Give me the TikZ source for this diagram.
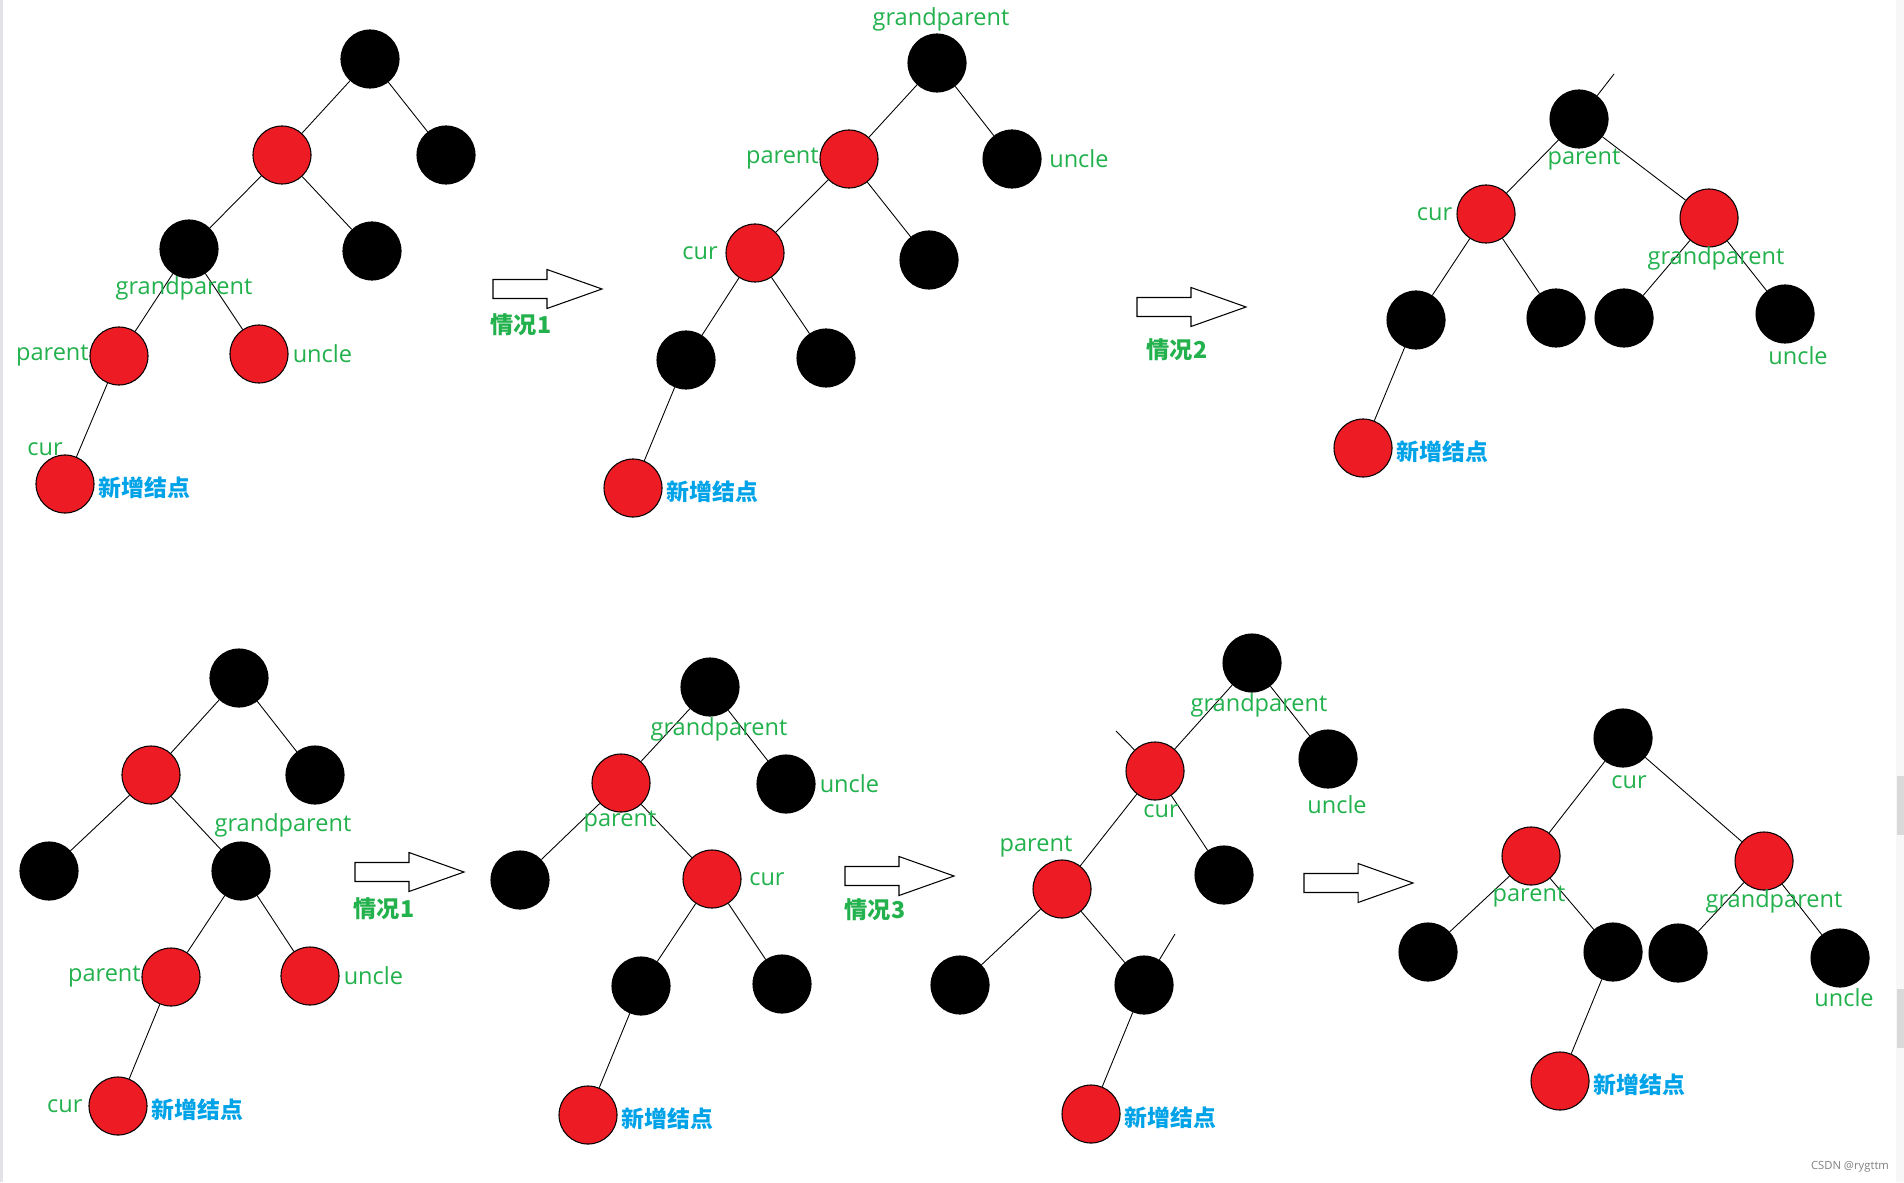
\documentclass[tikz,border=0pt]{standalone}
\usepackage{fontspec}
\setmainfont{Open Sans}
\newfontfamily\cjk{Noto Sans CJK SC}
\usetikzlibrary{positioning}
\definecolor{nodered}{RGB}{237,28,36}
\definecolor{labelgreen}{RGB}{34,177,76}
\definecolor{newblue}{RGB}{0,162,232}

\begin{document}
\begin{tikzpicture}[x=0.01cm, y=-0.01cm,
    bnode/.style={circle, draw=black, fill=black, line width=0.3pt, minimum size=0.58cm, inner sep=0pt},
    rnode/.style={circle, draw=black, fill=nodered, line width=0.3pt, minimum size=0.58cm, inner sep=0pt},
    link/.style={line width=0.25pt},
    lbl/.style={text=labelgreen, inner sep=0pt, font=\fontsize{6.7}{8}\selectfont},
    newlbl/.style={text=newblue, inner sep=0pt, yshift=-0.04cm, font=\cjk\bfseries\fontsize{6.5}{8}\selectfont},
    caselbl/.style={text=labelgreen, inner sep=0pt, font=\cjk\bfseries\fontsize{6.6}{8}\selectfont},
    hollow/.style={draw=black, fill=white, line width=0.3pt}
  ]
  \useasboundingbox (0,0) rectangle (1904,1182);
  \fill[blue!12!gray!20] (0,0) rectangle (3,1182);
  \fill[gray!6] (1896,0) rectangle (1904,1182);
  \fill[gray!30] (1897,776) rectangle (1904,835);
  \fill[gray!30] (1897,989) rectangle (1904,1048);

  % hollow arrows between the steps
  \foreach \x/\y in {493/289, 1137/307, 355/872, 845/876, 1304/883}
    \draw[hollow] (\x,\y-9.5) -- ++(54,0) -- ++(0,-10) -- (\x+109,\y)
      -- (\x+54,\y+19.5) -- ++(0,-10) -- (\x,\y+9.5) -- cycle;
  \node[caselbl] (case1a) at (521,325) {情况1};
  \node[caselbl] (case2) at (1177,350) {情况2};
  \node[caselbl] (case1b) at (384,909) {情况1};
  \node[caselbl] (case3) at (875,910) {情况3};

  % tree 1
  \node[bnode] (t1a) at (370,59) {};
  \node[rnode] (t1b) at (282,155) {};
  \node[bnode] (t1c) at (446,155) {};
  \node[bnode] (t1d) at (189,249) {};
  \node[bnode] (t1e) at (372,251) {};
  \node[rnode] (t1f) at (119,356) {};
  \node[rnode] (t1g) at (259,354) {};
  \node[rnode] (t1h) at (65,484) {};
  \foreach \u/\v in {a/b, a/c, b/d, b/e, d/f, d/g, f/h}
    \draw[link] (t1\u) -- (t1\v);
  \node[lbl] at (184,288) {grandparent};
  \node[lbl, left=0pt of t1f] {parent};
  \node[lbl, right=1pt of t1g] {uncle};
  \node[lbl] at (45,449) {cur};
  \node[newlbl, right=1pt of t1h] {新增结点};

  % tree 2
  \node[bnode] (t2a) at (937,63) {};
  \node[rnode] (t2b) at (849,159) {};
  \node[bnode] (t2c) at (1012,159) {};
  \node[rnode] (t2d) at (755,253) {};
  \node[bnode] (t2e) at (929,260) {};
  \node[bnode] (t2f) at (686,360) {};
  \node[bnode] (t2g) at (826,358) {};
  \node[rnode] (t2h) at (633,488) {};
  \foreach \u/\v in {a/b, a/c, b/d, b/e, d/f, d/g, f/h}
    \draw[link] (t2\u) -- (t2\v);
  \node[lbl] at (941,19) {grandparent};
  \node[lbl, left=0pt of t2b] {parent};
  \node[lbl, right=2pt of t2c] {uncle};
  \node[lbl, left=2pt of t2d] {cur};
  \node[newlbl, right=1pt of t2h] {新增结点};

  % tree 3
  \node[bnode] (t3a) at (1579,119) {};
  \node[rnode] (t3b) at (1486,214) {};
  \node[rnode] (t3c) at (1709,218) {};
  \node[bnode] (t3d) at (1416,320) {};
  \node[bnode] (t3e) at (1556,318) {};
  \node[bnode] (t3f) at (1624,318) {};
  \node[bnode] (t3g) at (1785,314) {};
  \node[rnode] (t3h) at (1363,448) {};
  \coordinate (t3up) at (1614,74);
  \draw[link] (t3a) -- (t3up);
  \foreach \u/\v in {a/b, a/c, b/d, b/e, c/f, c/g, d/h}
    \draw[link] (t3\u) -- (t3\v);
  \node[lbl] at (1584,160) {parent};
  \node[lbl, left=1pt of t3b] {cur};
  \node[lbl] at (1716,258) {grandparent};
  \node[lbl] at (1798,356) {uncle};
  \node[newlbl, right=1pt of t3h] {新增结点};

  % tree 4
  \node[bnode] (t4a) at (239,678) {};
  \node[rnode] (t4b) at (151,775) {};
  \node[bnode] (t4c) at (315,775) {};
  \node[bnode] (t4d) at (49,871) {};
  \node[bnode] (t4e) at (241,871) {};
  \node[rnode] (t4f) at (171,977) {};
  \node[rnode] (t4g) at (310,976) {};
  \node[rnode] (t4h) at (118,1106) {};
  \foreach \u/\v in {a/b, a/c, b/d, b/e, e/f, e/g, f/h}
    \draw[link] (t4\u) -- (t4\v);
  \node[lbl] at (283,825) {grandparent};
  \node[lbl, left=0pt of t4f] {parent};
  \node[lbl, right=1pt of t4g] {uncle};
  \node[lbl, left=1.5pt of t4h] {cur};
  \node[newlbl, right=1pt of t4h] {新增结点};

  % tree 5
  \node[bnode] (t5a) at (710,687) {};
  \node[rnode] (t5b) at (621,783) {};
  \node[bnode] (t5c) at (786,784) {};
  \node[bnode] (t5d) at (520,880) {};
  \node[rnode] (t5e) at (712,879) {};
  \node[bnode] (t5f) at (641,986) {};
  \node[bnode] (t5g) at (782,984) {};
  \node[rnode] (t5h) at (588,1115) {};
  \foreach \u/\v in {a/b, a/c, b/d, b/e, e/f, e/g, f/h}
    \draw[link] (t5\u) -- (t5\v);
  \node[lbl] at (719,729) {grandparent};
  \node[lbl] at (620,822) {parent};
  \node[lbl, right=1pt of t5c] {uncle};
  \node[lbl, right=2pt of t5e] {cur};
  \node[newlbl, right=1pt of t5h] {新增结点};

  % tree 6
  \node[bnode] (t6a) at (1252,663) {};
  \node[rnode] (t6b) at (1155,771) {};
  \node[bnode] (t6c) at (1328,759) {};
  \node[rnode] (t6d) at (1062,889) {};
  \node[bnode] (t6e) at (1224,875) {};
  \node[bnode] (t6f) at (960,985) {};
  \node[bnode] (t6g) at (1144,985) {};
  \node[rnode] (t6h) at (1091,1114) {};
  \coordinate (t6bup) at (1116,731);
  \coordinate (t6gup) at (1175,934);
  \draw[link] (t6b) -- (t6bup);
  \draw[link] (t6g) -- (t6gup);
  \foreach \u/\v in {a/b, a/c, b/d, b/e, d/f, d/g, g/h}
    \draw[link] (t6\u) -- (t6\v);
  \node[lbl] at (1259,705) {grandparent};
  \node[lbl] at (1161,811) {cur};
  \node[lbl] at (1337,805) {uncle};
  \node[lbl] at (1036,847) {parent};
  \node[newlbl, right=1pt of t6h] {新增结点};

  % tree 7
  \node[bnode] (t7a) at (1623,738) {};
  \node[rnode] (t7b) at (1531,856) {};
  \node[rnode] (t7c) at (1764,861) {};
  \node[bnode] (t7d) at (1428,952) {};
  \node[bnode] (t7e) at (1613,952) {};
  \node[bnode] (t7f) at (1678,953) {};
  \node[bnode] (t7g) at (1840,958) {};
  \node[rnode] (t7h) at (1560,1081) {};
  \foreach \u/\v in {a/b, a/c, b/d, b/e, c/f, c/g, e/h}
    \draw[link] (t7\u) -- (t7\v);
  \node[lbl] at (1629,782) {cur};
  \node[lbl] at (1529,897) {parent};
  \node[lbl] at (1774,901) {grandparent};
  \node[lbl] at (1844,998) {uncle};
  \node[newlbl, right=1pt of t7h] {新增结点};

  \node[text=gray, inner sep=0pt, font=\fontsize{3.2}{4}\selectfont] (mark) at (1850,1167) {CSDN @rygttm};
\end{tikzpicture}
\end{document}
